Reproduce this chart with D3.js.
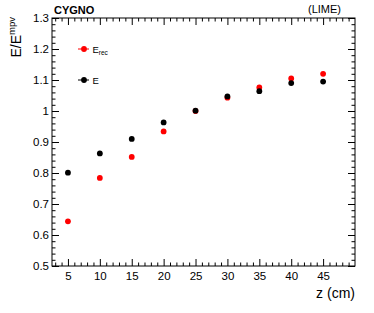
<!DOCTYPE html>
<html><head><meta charset="utf-8">
<script src="https://cdn.jsdelivr.net/npm/d3@7"></script>
<style>
body{margin:0;background:#fff;}
text{font-family:"Liberation Sans",Arial,Helvetica,sans-serif;}
</style></head>
<body><svg id="c" width="374" height="313"></svg>
<script>
const zValues = [5, 10, 15, 20, 25, 30, 35, 40, 45];
const eRec = [0.644, 0.784, 0.852, 0.934, 1.000, 1.043, 1.076, 1.105, 1.120];
const eTrue = [0.801, 0.863, 0.910, 0.963, 1.001, 1.047, 1.064, 1.090, 1.095];
const xMajorTicks = [5, 10, 15, 20, 25, 30, 35, 40, 45];
const yMajorTicks = [0.5, 0.6, 0.7, 0.8, 0.9, 1.0, 1.1, 1.2, 1.3];
const yTickLabels = ["0.5", "0.6", "0.7", "0.8", "0.9", "1", "1.1", "1.2", "1.3"];
const xDomain = [2.5, 50];
const yDomain = [0.5, 1.3];

const svg = d3.select("#c");
const L = 52, R = 355, T = 18, B = 266;
const x = d3.scaleLinear().domain(xDomain).range([L, R]);
const y = d3.scaleLinear().domain(yDomain).range([B, T]);

const xMinor = d3.range(3, 50.01, 1).filter(v => v % 5 !== 0);
const yMinor = d3.range(0, 41).map(i => +(0.5 + i * 0.02).toFixed(2)).filter(v => Math.round(v * 100) % 10 !== 0);

const MAJ = 7, MIN = 3.5;
function styleAxis(g) {
  g.select(".domain").remove();
  g.selectAll("line").attr("stroke", "#000").attr("stroke-width", 1);
  g.selectAll("text").attr("font-size", 11.5).attr("fill", "#000");
}
// bottom
svg.append("g").attr("transform", `translate(0,${B})`)
  .call(d3.axisBottom(x).tickValues(xMajorTicks).tickSize(-MAJ).tickPadding(6).tickFormat(d3.format("d")))
  .call(styleAxis);
svg.append("g").attr("transform", `translate(0,${B})`)
  .call(d3.axisBottom(x).tickValues(xMinor).tickSize(-MIN).tickFormat(""))
  .call(styleAxis);
// top
svg.append("g").attr("transform", `translate(0,${T})`)
  .call(d3.axisTop(x).tickValues(xMajorTicks).tickSize(-MAJ).tickFormat(""))
  .call(styleAxis);
svg.append("g").attr("transform", `translate(0,${T})`)
  .call(d3.axisTop(x).tickValues(xMinor).tickSize(-MIN).tickFormat(""))
  .call(styleAxis);
// left
svg.append("g").attr("transform", `translate(${L},0)`)
  .call(d3.axisLeft(y).tickValues(yMajorTicks).tickSize(-MAJ).tickPadding(3).tickFormat((d, i) => yTickLabels[i]))
  .call(styleAxis);
svg.append("g").attr("transform", `translate(${L},0)`)
  .call(d3.axisLeft(y).tickValues(yMinor).tickSize(-MIN).tickFormat(""))
  .call(styleAxis);
// right
svg.append("g").attr("transform", `translate(${R},0)`)
  .call(d3.axisRight(y).tickValues(yMajorTicks).tickSize(-MAJ).tickFormat(""))
  .call(styleAxis);
svg.append("g").attr("transform", `translate(${R},0)`)
  .call(d3.axisRight(y).tickValues(yMinor).tickSize(-MIN).tickFormat(""))
  .call(styleAxis);

svg.append("rect").attr("x", L).attr("y", T).attr("width", R - L).attr("height", B - T)
  .attr("fill", "none").attr("stroke", "#000").attr("stroke-width", 1);

// points
const ptsRec = zValues.map((z, i) => ({z, v: eRec[i]}));
const ptsTrue = zValues.map((z, i) => ({z, v: eTrue[i]}));
svg.append("g").selectAll("circle").data(ptsRec).join("circle")
  .attr("cx", d => x(d.z)).attr("cy", d => y(d.v)).attr("r", 2.9).attr("fill", "#ff0000");
svg.append("g").selectAll("circle").data(ptsTrue).join("circle")
  .attr("cx", d => x(d.z)).attr("cy", d => y(d.v)).attr("r", 2.9).attr("fill", "#000");

// legend
const legend = [{label: "E", sub: "rec", color: "#ff0000", yv: 1.2}, {label: "E", sub: "", color: "#000", yv: 1.1}];
legend.forEach(l => {
  const yy = y(l.yv);
  svg.append("line").attr("x1", 78).attr("x2", 89).attr("y1", yy).attr("y2", yy).attr("stroke", l.color).attr("stroke-width", 1);
  svg.append("circle").attr("cx", 84).attr("cy", yy).attr("r", 2.9).attr("fill", l.color);
  const t = svg.append("text").attr("x", 92.5).attr("y", yy + 3.5).attr("font-size", 9.5).attr("fill", "#000").text(l.label);
  if (l.sub) t.append("tspan").attr("font-size", 6.5).attr("dy", 2.5).text(l.sub);
});

// titles
svg.append("text").attr("x", 54).attr("y", 13.5).attr("font-size", 11).attr("font-weight", "bold").text("CYGNO");
svg.append("text").attr("x", 341).attr("y", 13).attr("font-size", 11).attr("text-anchor", "end").text("(LIME)");
svg.append("text").attr("x", 355).attr("y", 298).attr("font-size", 14).attr("text-anchor", "end").text("z (cm)");
const yt = svg.append("text").attr("transform", "translate(20.5,17) rotate(-90)").attr("text-anchor", "end").attr("font-size", 14);
yt.append("tspan").text("E/E");
yt.append("tspan").attr("font-size", 9.5).attr("dy", -6).text("mpv");
</script></body></html>
